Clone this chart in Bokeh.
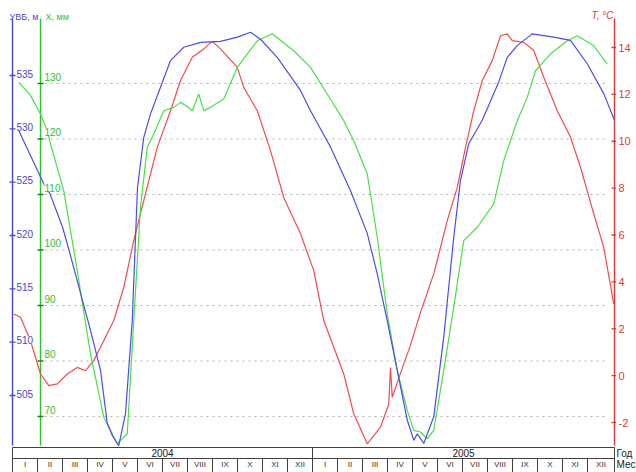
from bokeh.plotting import figure
from bokeh.models import Range1d
from bokeh.core.properties import value
from bokeh.embed import file_html
from bokeh.resources import INLINE

# ---------------- data (months counted from 1 Jan 2004) ----------------
years = ["2004", "2005"]
months = ["I", "II", "III", "IV", "V", "VI", "VII", "VIII", "IX", "X", "XI", "XII"]

blue_ticks = [535, 530, 525, 520, 515, 510, 505]
green_ticks = [130, 120, 110, 100, 90, 80, 70]
red_ticks = [14, 12, 10, 8, 6, 4, 2, 0, -2]

# УВБ, м (blue)
lvl_month = [0.25, 0.7, 1.25, 1.5, 2.0, 2.3, 2.72, 3.12, 3.52, 3.79, 4.0, 4.25, 4.52, 4.79,
             5.0, 5.25, 5.52, 5.92, 6.32, 6.85, 7.52, 8.32, 9.0, 9.52, 9.92, 10.59, 11.52,
             11.92, 12.72, 13.52, 14.19, 14.59, 14.99, 15.39, 15.79, 16.05, 16.19, 16.45,
             16.85, 17.25, 17.65, 17.92, 18.25, 18.79, 19.45, 19.79, 20.19, 20.79, 21.65,
             22.32, 22.99, 23.65, 24.08]
lvl_value = [529.85, 527.6, 524.85, 523.9, 520.8, 518.3, 514.6, 511.1, 507.35, 502.4, 501.2,
             500.3, 503.3, 512.0, 524.5, 529.2, 531.4, 533.9, 536.4, 537.65, 538.1, 538.2,
             538.6, 539.06, 538.4, 536.7, 533.6, 531.7, 528.3, 524.2, 520.2, 516.4, 512.0,
             507.35, 502.7, 500.8, 501.4, 500.5, 503.0, 510.5, 519.85, 525.2, 528.6, 530.8,
             534.4, 536.7, 537.8, 538.9, 538.6, 538.3, 536.1, 533.3, 530.8]

# Х, мм (green)
x_month = [0.25, 0.7, 1.12, 1.39, 1.52, 2.05, 2.59, 3.12, 3.65, 4.19, 4.59, 4.85, 5.12, 5.39,
           5.65, 6.05, 6.45, 6.72, 7.0, 7.19, 7.45, 7.65, 7.92, 8.45, 8.99, 9.79, 10.39,
           11.25, 11.92, 12.59, 13.25, 13.65, 14.19, 14.59, 14.99, 15.39, 15.79, 16.05,
           16.32, 16.59, 16.85, 17.25, 17.65, 18.05, 18.59, 19.25, 19.65, 20.19, 20.59,
           20.92, 21.52, 22.19, 22.59, 23.25, 23.79]
x_value = [130.2, 128.0, 124.5, 121.5, 119.1, 110.7, 96.3, 81.3, 69.9, 65.1, 66.9, 87.3,
           107.7, 118.5, 120.9, 125.1, 125.7, 126.6, 125.8, 125.1, 128.1, 125.1, 125.7,
           127.2, 132.9, 137.7, 138.95, 135.9, 132.9, 128.1, 123.3, 119.7, 113.7, 102.3,
           88.5, 78.3, 71.1, 67.5, 67.2, 66.0, 67.5, 78.3, 89.7, 101.7, 104.1, 108.3, 116.1,
           123.3, 127.5, 132.3, 135.35, 137.7, 138.6, 136.8, 133.5]

# T, °C (red)
t_month = [0.05, 0.32, 0.72, 1.12, 1.45, 1.79, 2.19, 2.59, 2.92, 3.25, 3.65, 4.05, 4.45,
           4.85, 5.25, 5.79, 6.32, 6.72, 7.19, 7.65, 7.99, 8.32, 8.99, 9.25, 9.79, 10.32,
           10.85, 11.52, 12.05, 12.45, 12.85, 13.25, 13.65, 14.19, 14.72, 15.05, 15.12,
           15.19, 15.65, 15.92, 16.32, 16.85, 17.39, 17.79, 18.12, 18.45, 18.79, 19.19,
           19.52, 19.79, 19.99, 20.45, 20.85, 21.25, 21.79, 22.32, 22.72, 23.25, 23.65, 24.05]
t_value = [2.63, 2.49, 1.49, 0.07, -0.43, -0.35, 0.07, 0.35, 0.21, 0.64, 1.49, 2.35, 3.77,
           5.76, 7.47, 9.74, 11.3, 12.59, 13.58, 13.94, 14.26, 13.94, 13.15, 12.3, 11.3, 9.6,
           7.6, 6.05, 4.48, 2.35, 1.21, 0.07, -1.63, -2.91, -2.2, -1.21, 0.35, -0.93, 0.5,
           1.3, 2.7, 4.34, 6.61, 8.03, 9.74, 11.3, 12.59, 13.44, 14.5, 14.58, 14.29, 14.22,
           13.87, 12.73, 11.3, 10.17, 8.89, 6.9, 5.47, 3.06]

# ---------------- layout helpers ----------------
W, H = 636, 472
PAGE = 0
X0_PX, MONTH_PX = 12, 25.0          # picture x of month 0, pixels per month
T_REF_PX, T_PX = 47, 375 / 16.0     # picture y of 14 °C, pixels per degree
L_REF_PX, L_PX = 75, 320 / 30.0     # picture y of 535 m, pixels per metre
X_REF_PX, X_PX = 83, 333 / 60.0     # picture y of 130 mm, pixels per mm


def mx(px):
    return (px - X0_PX) / MONTH_PX


def ty(py):
    return 14 - (py - T_REF_PX) / T_PX


top_px, bot_px = PAGE, PAGE + H
p = figure(width=W, height=H, output_backend="svg", toolbar_location=None,
           x_range=Range1d(mx(PAGE), mx(PAGE + W)),
           y_range=Range1d(ty(bot_px), ty(top_px)),
           x_axis_location=None, y_axis_location=None,
           min_border=0, outline_line_color=None, background_fill_color="white")
p.extra_y_ranges = {
    "lvl": Range1d(535 - (bot_px - L_REF_PX) / L_PX, 535 + (L_REF_PX - top_px) / L_PX),
    "xmm": Range1d(130 - (bot_px - X_REF_PX) / X_PX, 130 + (X_REF_PX - top_px) / X_PX),
}
p.grid.visible = False

FONT = value("Liberation Sans")
BLUE_AX, GREEN_AX, RED_AX = "#4848c8", "#30c030", "#e03838"
BLUE_LN, GREEN_LN, RED_LN = "#4c4cec", "#48e048", "#f04c4c"

ax_blue, ax_green, ax_red = mx(12), mx(40), mx(614)
ax_top, ax_bot = ty(18), ty(445)

# dotted grid lines at the X ticks
p.segment(x0=mx(44), x1=mx(604), y0=green_ticks, y1=green_ticks, y_range_name="xmm",
          line_color="#b0b0b0", line_width=1.2, line_dash="2 4")

# axis lines
p.segment(x0=[ax_blue, ax_green, ax_red], x1=[ax_blue, ax_green, ax_red],
          y0=[ax_top] * 3, y1=[ax_bot] * 3,
          line_color=[BLUE_AX, GREEN_AX, RED_AX], line_width=1.4)

# data lines
p.line(t_month, t_value, line_color=RED_LN, line_width=1.2)
p.line(x_month, x_value, y_range_name="xmm", line_color=GREEN_LN, line_width=1.2)
p.line(lvl_month, lvl_value, y_range_name="lvl", line_color=BLUE_LN, line_width=1.2)

# tick marks
tk = 3 / MONTH_PX
p.segment(x0=ax_blue - tk, x1=ax_blue + tk, y0=blue_ticks, y1=blue_ticks,
          y_range_name="lvl", line_color=BLUE_AX, line_width=1.3)
p.segment(x0=ax_green - tk, x1=ax_green + tk, y0=green_ticks, y1=green_ticks,
          y_range_name="xmm", line_color="#208020", line_width=1.5)
p.segment(x0=ax_red - tk, x1=ax_red + tk / 2, y0=red_ticks, y1=red_ticks,
          line_color=RED_AX, line_width=1.3)

# tick labels
p.text(x=ax_blue, y=blue_ticks, text=[str(v) for v in blue_ticks], y_range_name="lvl",
       x_offset=4, y_offset=-2, text_font=FONT, text_font_size="10px",
       text_color=BLUE_AX, text_align="left", text_baseline="middle",
       background_fill_color="white")
p.text(x=ax_green, y=green_ticks, text=[str(v) for v in green_ticks], y_range_name="xmm",
       x_offset=4, y_offset=-7, text_font=FONT, text_font_size="10px",
       text_color=GREEN_AX, text_align="left", text_baseline="middle",
       background_fill_color="white")
p.text(x=ax_red, y=red_ticks, text=[str(v) for v in red_ticks],
       x_offset=4, y_offset=0, text_font=FONT, text_font_size="11px",
       text_color=RED_AX, text_align="left", text_baseline="middle")

# axis titles
p.text(x=[ax_blue], y=[ty(16)], text=["УВБ, м"], x_offset=-3, text_font=FONT,
       text_font_size="9px", text_color=BLUE_AX, text_align="left", text_baseline="middle")
p.text(x=[ax_green], y=[ty(16)], text=["Х, мм"], x_offset=5, text_font=FONT,
       text_font_size="9px", text_color=GREEN_AX, text_align="left", text_baseline="middle")
p.text(x=[ax_red], y=[ty(15)], text=["T, °C"], x_offset=-1, text_font=FONT,
       text_font_size="10px", text_color=RED_AX, text_align="right", text_baseline="middle",
       text_font_style="italic")

# calendar band: years and months
yr_top, yr_bot, mo_bot = ty(447), ty(458), ty(472)
mo_mid = ty(464)
yr_left = [12 * i for i in range(len(years))]
yr_right = [12 * (i + 1) for i in range(len(years))]
yr_right[-1] = ax_red
p.quad(left=yr_left, right=yr_right, top=yr_top, bottom=yr_bot,
       fill_color=None, line_color="#404040", line_width=1)
p.text(x=[(a + b) / 2 for a, b in zip(yr_left, yr_right)], y=(yr_top + yr_bot) / 2,
       text=years, text_font=FONT, text_font_size="10px", text_color="#202020",
       text_align="center", text_baseline="middle")

mo_left = [float(i) for i in range(24)]
mo_right = [float(i + 1) for i in range(24)]
mo_right[-1] = ax_red
p.quad(left=mo_left, right=mo_right, top=yr_bot, bottom=mo_bot,
       fill_color=None, line_color="#404040", line_width=1)
p.text(x=[(a + b) / 2 for a, b in zip(mo_left, mo_right)], y=mo_mid,
       text=months * 2, text_font=FONT, text_font_size="8px", text_color="#303030",
       text_align="center", text_baseline="middle")

p.text(x=[ax_red, ax_red], y=[(yr_top + yr_bot) / 2, mo_mid],
       text=["Год", "Мес"], x_offset=2, text_font=FONT, text_font_size="10px",
       text_color="#202020", text_align="left", text_baseline="middle")

open("out.html", "w").write(file_html(p, INLINE))
